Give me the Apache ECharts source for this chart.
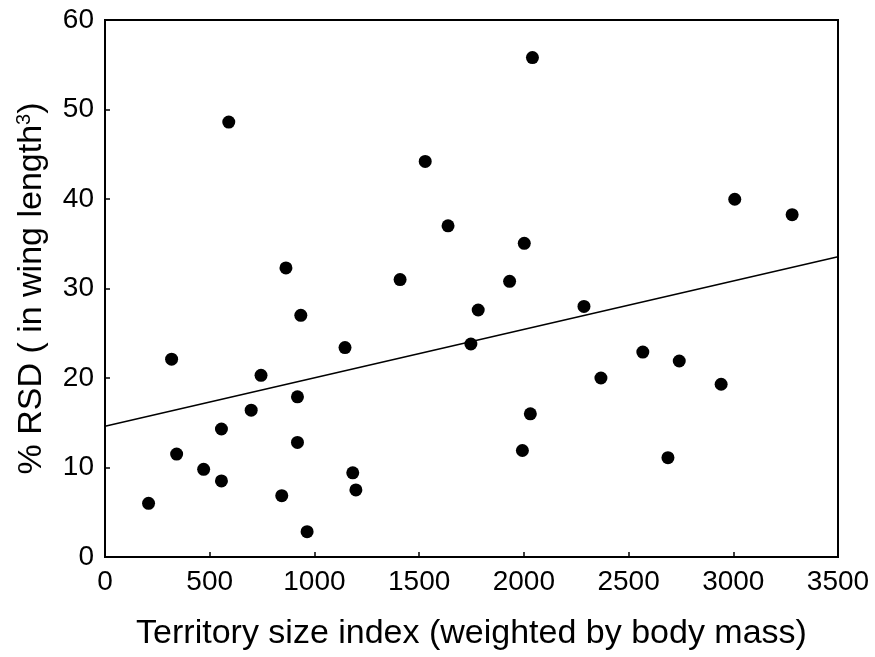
<!DOCTYPE html>
<html>
<head>
<meta charset="utf-8">
<script src="https://cdn.jsdelivr.net/npm/echarts@6/dist/echarts.min.js"></script>
<style>html,body{margin:0;padding:0;background:#fff}#c{width:875px;height:657px}</style>
</head>
<body>
<div id="c"></div>
<script>
const territorySize = [208, 318, 342, 471, 556, 556, 591, 698, 745, 844, 864, 919, 919, 935, 965, 1146, 1183, 1198, 1409, 1529, 1638, 1747, 1782, 1932, 1993, 2002, 2031, 2041, 2287, 2368, 2568, 2688, 2742, 2942, 3007, 3281];
const rsdValues = [6.0, 22.1, 11.5, 9.8, 8.5, 14.3, 48.6, 16.4, 20.3, 6.85, 32.3, 17.9, 12.8, 27.0, 2.83, 23.4, 9.4, 7.5, 31.0, 44.2, 37.0, 23.8, 27.6, 30.8, 11.9, 35.05, 16.0, 55.8, 28.0, 20.0, 22.9, 11.1, 21.9, 19.3, 39.97, 38.25];
const fitX = [0, 3500];
const fitY = [14.6, 33.55];
const xTicks = [0, 500, 1000, 1500, 2000, 2500, 3000, 3500];
const yTicks = [0, 10, 20, 30, 40, 50, 60];

const font = 'Liberation Sans, Arial, sans-serif';
const chart = echarts.init(document.getElementById('c'), null, {renderer: 'canvas'});
chart.setOption({
  animation: false,
  backgroundColor: '#fff',
  grid: {left: 105, right: 37, top: 20, bottom: 100, show: true, borderColor: '#000', borderWidth: 2, backgroundColor: 'transparent'},
  xAxis: {
    type: 'value', min: xTicks[0], max: xTicks[xTicks.length - 1], interval: 500,
    name: 'Territory size index (weighted by body mass)', nameLocation: 'middle', nameGap: 60,
    nameTextStyle: {fontFamily: font, fontSize: 34, color: '#000'},
    axisLine: {show: true, lineStyle: {color: '#000', width: 2}},
    axisTick: {show: true, inside: true, length: 5, lineStyle: {color: '#000', width: 1.5}},
    axisLabel: {fontFamily: font, fontSize: 28, color: '#000', margin: 11, formatter: v => String(v)},
    splitLine: {show: false}
  },
  yAxis: {
    type: 'value', min: yTicks[0], max: yTicks[yTicks.length - 1], interval: 10,
    name: '{a|% RSD ( in wing length}{s|3}{a|)}', nameLocation: 'middle', nameGap: 55,
    nameTextStyle: {fontFamily: font, color: '#000', rich: {
      a: {fontFamily: font, fontSize: 34, color: '#000'},
      s: {fontFamily: font, fontSize: 20, color: '#000', padding: [0, 0, 16, 0]}
    }},
    axisLine: {show: true, lineStyle: {color: '#000', width: 2}},
    axisTick: {show: true, inside: true, length: 5, lineStyle: {color: '#000', width: 1.5}},
    axisLabel: {fontFamily: font, fontSize: 28, color: '#000', margin: 11, formatter: v => String(v)},
    splitLine: {show: false}
  },
  series: [
    {
      type: 'scatter', symbol: 'circle', symbolSize: 13,
      itemStyle: {color: '#000', opacity: 1},
      data: territorySize.map((x, i) => [x, rsdValues[i]])
    },
    {
      type: 'line', symbol: 'none', silent: true,
      lineStyle: {color: '#000', width: 1.5},
      data: fitX.map((x, i) => [x, fitY[i]])
    }
  ]
});
</script>
</body>
</html>
